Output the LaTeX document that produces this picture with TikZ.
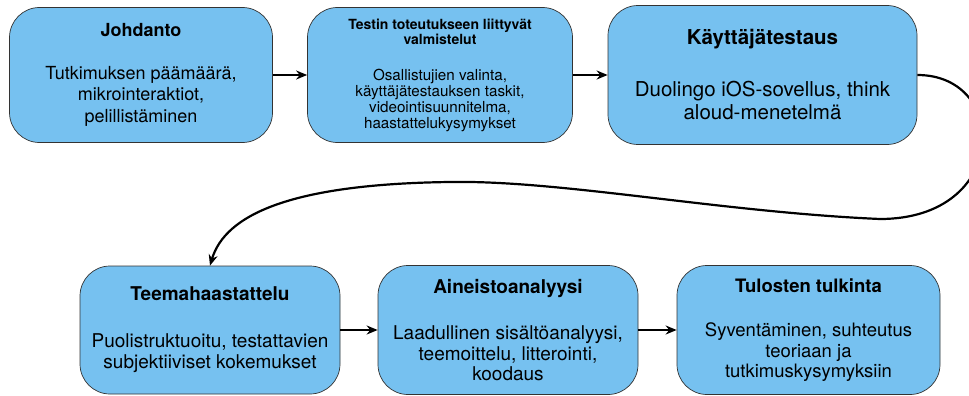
\documentclass[tikz,border=0pt]{standalone}
\usepackage{fontspec}
\setmainfont{TeX Gyre Heros}
\usepackage{xcolor}
\usetikzlibrary{arrows.meta, positioning}

\definecolor{phaseblue}{RGB}{118,193,240}

\begin{document}
\begin{tikzpicture}[
    x=1pt, y=-1pt,
    >={Stealth[length=11pt, width=9pt]},
    every node/.style={font=\fontsize{18}{21.5}\selectfont},
    phase/.style={draw=black!80, line width=0.7pt, fill=phaseblue,
                  rounded corners=30pt, align=center, inner sep=0pt},
    flow/.style={->, line width=2.2pt},
]
    \useasboundingbox (0,0) rectangle (969,396);

    % Upper row
    \node[phase, minimum width=263pt, minimum height=135pt] (B1) at (141,75)
        {\textbf{Johdanto}\\[21pt]
         Tutkimuksen päämäärä,\\ mikrointeraktiot,\\ pelillistäminen};
    \node[phase, minimum width=265pt, minimum height=135pt,
          font=\fontsize{15.2}{15.8}\selectfont] (B2) at (440,75)
        {{\fontsize{14}{15.8}\selectfont\bfseries Testin toteutukseen liittyvät}\\
         {\fontsize{14}{15.8}\selectfont\bfseries valmistelut}\\[20pt]
         Osallistujien valinta,\\ käyttäjätestauksen taskit,\\
         videointisuunnitelma,\\ haastattelukysymykset};
    \node[phase, minimum width=309pt, minimum height=139pt,
          font=\fontsize{20.5}{23}\selectfont] (B3) at (762.5,75)
        {\textbf{Käyttäjätestaus}\\[29pt]
         Duolingo iOS-sovellus, think\\ aloud-menetelmä};

    % Lower row
    \node[phase, minimum width=260pt, minimum height=128pt,
          font=\fontsize{19}{21}\selectfont] (B4) at (210,330)
        {\textbf{Teemahaastattelu}\\[26pt]
         Puolistruktuoitu, testattavien\\ subjektiiviset kokemukset};
    \node[phase, minimum width=260pt, minimum height=129pt,
          font=\fontsize{19}{20.5}\selectfont] (B5) at (508,330)
        {\textbf{Aineistoanalyysi}\\[26pt]
         Laadullinen sisältöanalyysi,\\ teemoittelu, litterointi,\\ koodaus};
    \node[phase, minimum width=263pt, minimum height=129pt,
          font=\fontsize{18.5}{20.5}\selectfont] (B6) at (808.5,330)
        {\textbf{Tulosten tulkinta}\\[24pt]
         Syventäminen, suhteutus\\ teoriaan ja\\ tutkimuskysymyksiin};

    % Connectors
    \draw[flow] (B1.east) -- (B2.west);
    \draw[flow] (B2.east) -- (B3.west);
    \draw[flow] (B3.east) .. controls (1010,75) and (1010,219) .. (880,219)
        .. controls (720,212) and (560,180) .. (450,182)
        .. controls (290,184) and (225,215) .. (B4.north);
    \draw[flow] (B4.east) -- (B5.west);
    \draw[flow] (B5.east) -- (B6.west);
\end{tikzpicture}
\end{document}
